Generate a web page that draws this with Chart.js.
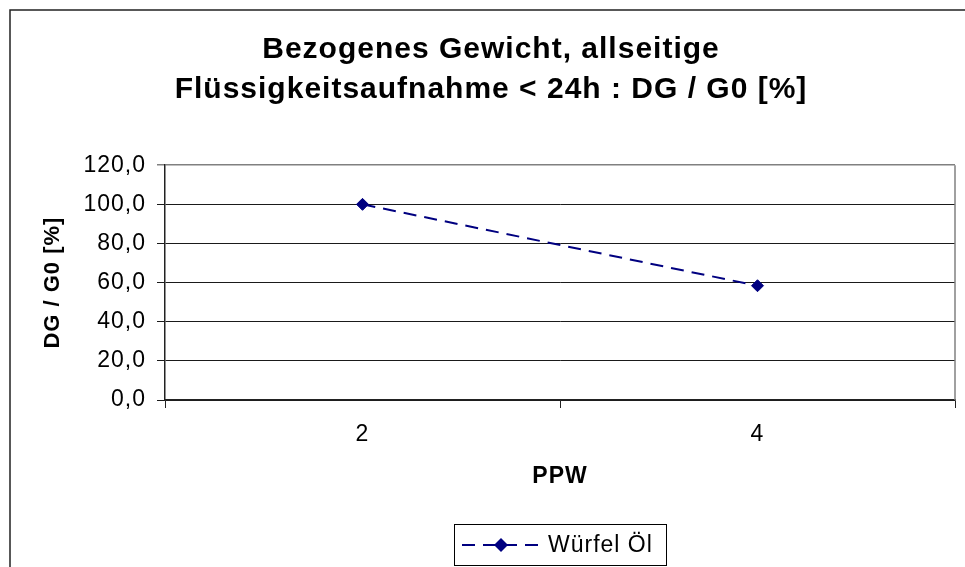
<!DOCTYPE html>
<html>
<head>
<meta charset="utf-8">
<script src="https://cdn.jsdelivr.net/npm/chart.js@4.4.1/dist/chart.umd.min.js"></script>
<style>
  body { margin: 0; background: #fff; overflow: hidden; }
</style>
</head>
<body>
<canvas id="chart" width="965" height="567"></canvas>
<script>
const titleLines = ['Bezogenes Gewicht, allseitige', 'Flüssigkeitsaufnahme < 24h : DG / G0 [%]'];
const categories = ['2', '4'];
const seriesName = 'Würfel Öl';
const seriesValues = [100, 58.4];
const yTicks = [0, 20, 40, 60, 80, 100, 120];
const xTitle = 'PPW';
const yTitle = 'DG / G0 [%]';

const FONT = 'Arial, "Liberation Sans", sans-serif';
const NAVY = '#000080';

// Excel-ish text is spaced a little wider than the canvas default
const spacingPlugin = {
    id: 'spacingPlugin',
    beforeLayout: (chart) => { chart.ctx.letterSpacing = '1px'; },
    beforeDraw: (chart) => { chart.ctx.letterSpacing = '1px'; }
};

// outer frame + right border of the plot box
const framePlugin = {
    id: 'framePlugin',
    afterDraw: (chart) => {
        const ctx = chart.ctx;
        const { right, top, bottom } = chart.chartArea;
        ctx.save();
        ctx.strokeStyle = '#808080';
        ctx.lineWidth = 1.5;
        ctx.beginPath();
        ctx.moveTo(right, top);
        ctx.lineTo(right, bottom);
        ctx.stroke();
        ctx.strokeStyle = '#222';
        ctx.lineWidth = 1.5;
        ctx.strokeRect(10, 10, 1000, 1000);
        ctx.restore();
    }
};

// boxed legend with a dashed line sample
const legendPlugin = {
    id: 'legendPlugin',
    afterDraw: (chart) => {
        const ctx = chart.ctx;
        const ds = chart.data.datasets[0];
        const { left, right } = chart.chartArea;
        const cx = (left + right) / 2;
        const cy = 545;
        ctx.save();
        ctx.strokeStyle = '#000';
        ctx.lineWidth = 1;
        ctx.strokeRect(cx - 106 + 0.5, 524.5, 212, 41);

        ctx.strokeStyle = ds.borderColor;
        ctx.lineWidth = 2;
        ctx.setLineDash([13, 8]);
        ctx.beginPath();
        ctx.moveTo(cx - 98, cy);
        ctx.lineTo(cx - 17, cy);
        ctx.stroke();
        ctx.setLineDash([]);

        ctx.fillStyle = ds.pointBackgroundColor;
        ctx.beginPath();
        ctx.moveTo(cx - 66, cy);
        ctx.lineTo(cx - 59, cy - 7);
        ctx.lineTo(cx - 52, cy);
        ctx.lineTo(cx - 59, cy + 7);
        ctx.closePath();
        ctx.fill();

        ctx.fillStyle = '#000';
        ctx.font = '23px ' + FONT;
        ctx.textAlign = 'left';
        ctx.textBaseline = 'middle';
        ctx.fillText(ds.label, cx - 12, cy + 1);
        ctx.restore();
    }
};

const ctx = document.getElementById('chart').getContext('2d');
const chart = new Chart(ctx, {
    type: 'line',
    data: {
        labels: categories,
        datasets: [{
            label: seriesName,
            data: seriesValues,
            borderColor: NAVY,
            backgroundColor: NAVY,
            pointBackgroundColor: NAVY,
            pointBorderColor: NAVY,
            borderWidth: 2,
            borderDash: [13, 8],
            pointStyle: 'rectRot',
            pointRadius: 6,
            pointBorderWidth: 1,
            tension: 0,
            fill: false
        }]
    },
    options: {
        responsive: false,
        animation: false,
        devicePixelRatio: 1,
        layout: {
            padding: { left: 27, right: 10, top: 0, bottom: 0 }
        },
        scales: {
            x: {
                type: 'category',
                offset: true,
                grid: {
                    offset: true,
                    drawOnChartArea: false,
                    drawTicks: true,
                    tickLength: 8,
                    color: '#222',
                    lineWidth: 1
                },
                border: { color: '#222', width: 1.5 },
                ticks: {
                    color: '#000',
                    font: { family: FONT, size: 23 },
                    padding: 13
                },
                title: {
                    display: true,
                    text: xTitle,
                    color: '#000',
                    font: { family: FONT, size: 23, weight: 'bold' },
                    padding: { top: 0, bottom: 77 }
                },
                afterFit: (scale) => { scale.height = 167; }
            },
            y: {
                min: 0,
                max: 120,
                afterBuildTicks: (scale) => { scale.ticks = yTicks.map(v => ({ value: v })); },
                grid: {
                    color: (c) => (c.tick && c.tick.value === 120 ? '#808080' : '#1a1a1a'),
                    lineWidth: (c) => (c.tick && c.tick.value === 120 ? 1.5 : 1),
                    drawTicks: true,
                    tickLength: 8
                },
                border: { color: '#222', width: 1.5 },
                ticks: {
                    color: '#000',
                    font: { family: FONT, size: 23 },
                    padding: 11,
                    callback: (v) => v.toFixed(1).replace('.', ',')
                },
                title: {
                    display: true,
                    text: yTitle,
                    color: '#000',
                    font: { family: FONT, size: 22, weight: 'bold' },
                    padding: { top: 13, bottom: 0 }
                },
                afterFit: (scale) => { scale.width = 138; }
            }
        },
        plugins: {
            legend: { display: false },
            tooltip: { enabled: false },
            title: {
                display: true,
                text: titleLines,
                color: '#000',
                font: { family: FONT, size: 30, weight: 'bold', lineHeight: 1.32 },
                padding: { top: 30, bottom: 56 }
            }
        }
    },
    plugins: [spacingPlugin, framePlugin, legendPlugin]
});
</script>
</body>
</html>
